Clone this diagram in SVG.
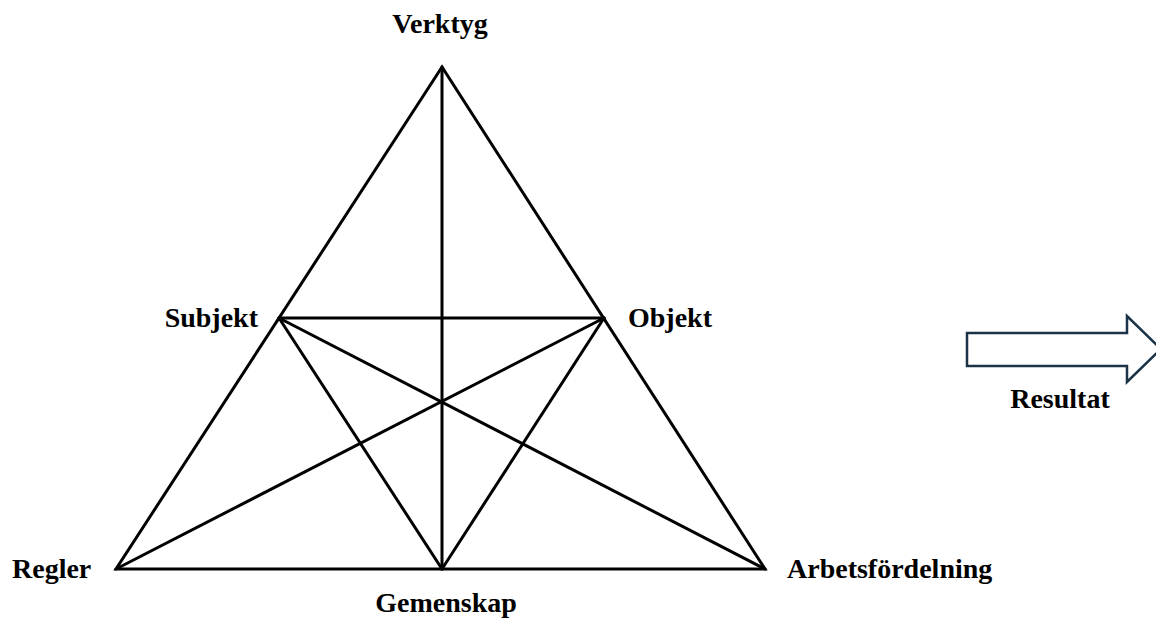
<svg xmlns="http://www.w3.org/2000/svg" width="1156" height="618" viewBox="0 0 1156 618">
<style>
.l{stroke:#000;stroke-width:3;fill:none;stroke-linecap:round;stroke-linejoin:miter}
.t{font-family:"Liberation Serif","Times New Roman",serif;font-weight:bold;font-size:28px;fill:#000}
</style>
<rect width="1156" height="618" fill="#fff"/>
<g id="connectors">
<polygon class="l" points="442,67 116,569 765,569"/>
<line class="l" x1="442" y1="67" x2="442" y2="569"/>
<line class="l" x1="279" y1="318" x2="604" y2="318"/>
<line class="l" x1="279" y1="318" x2="765" y2="569"/>
<line class="l" x1="604" y1="318" x2="116" y2="569"/>
<line class="l" x1="279" y1="318" x2="442" y2="569"/>
<line class="l" x1="604" y1="318" x2="442" y2="569"/>
</g>
<g id="verktyg"><text class="t" x="440" y="33" text-anchor="middle">Verktyg</text></g>
<g id="subjekt"><text class="t" x="258" y="327" text-anchor="end">Subjekt</text></g>
<g id="objekt"><text class="t" x="628" y="327">Objekt</text></g>
<g id="regler"><text class="t" x="12" y="578">Regler</text></g>
<g id="arbetsfordelning"><text class="t" x="787" y="578">Arbetsfördelning</text></g>
<g id="gemenskap"><text class="t" x="446" y="612" text-anchor="middle">Gemenskap</text></g>
<g id="resultat">
<polygon points="967,333 1127,333 1127,316 1161,349 1127,382 1127,366 967,366" fill="#fff" stroke="#1a3347" stroke-width="2.5"/>
<text class="t" x="1060" y="408" text-anchor="middle">Resultat</text>
</g>
</svg>
